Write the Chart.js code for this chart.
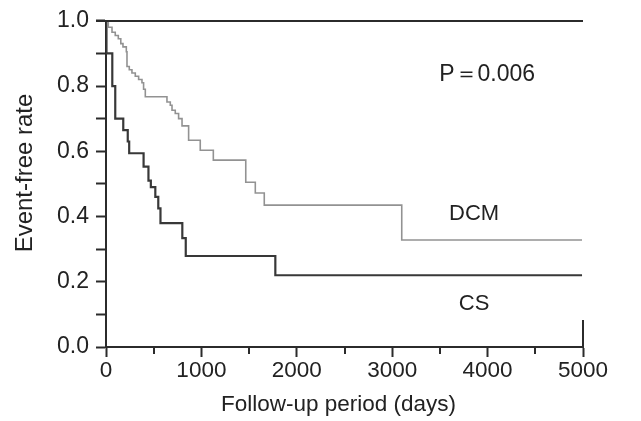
<!DOCTYPE html>
<html>
<head>
<meta charset="utf-8">
<script src="https://cdn.jsdelivr.net/npm/chart.js@4.4.1/dist/chart.umd.min.js"></script>
<style>
  html, body { margin: 0; padding: 0; background: #ffffff; }
  #wrap { width: 641px; height: 421px; }
</style>
</head>
<body>
<div id="wrap"><canvas id="c" width="641" height="421"></canvas></div>
<script>
// ---- data ----
const csDays  = [0, 5, 66, 97, 181, 228, 243, 394, 445, 470, 517, 548, 571, 800, 836, 1775, 4990];
const csRate  = [1.0, 0.90, 0.80, 0.70, 0.665, 0.63, 0.594, 0.553, 0.51, 0.49, 0.46, 0.425, 0.38, 0.334, 0.279, 0.22, 0.22];
const dcmDays = [0, 24, 63, 97, 129, 155, 178, 213, 220, 244, 272, 307, 342, 377, 394, 412, 639, 674, 692, 726, 761, 797, 866, 988, 1125, 1465, 1565, 1659, 3100, 4990];
const dcmRate = [1.0, 0.98, 0.965, 0.955, 0.945, 0.93, 0.92, 0.905, 0.86, 0.85, 0.84, 0.83, 0.82, 0.81, 0.79, 0.767, 0.751, 0.741, 0.726, 0.716, 0.70, 0.678, 0.634, 0.603, 0.573, 0.505, 0.472, 0.435, 0.328, 0.328];
const xTickLabels = ['0', '1000', '2000', '3000', '4000', '5000'];
const yTickLabels = ['0.0', '0.2', '0.4', '0.6', '0.8', '1.0'];
const seriesNames = ['CS', 'DCM'];
const pValueText = 'P\uFF1D0.006';
const xTitle = 'Follow-up period (days)';
const yTitle = 'Event-free rate';

const toPts = (xs, ys) => xs.map((x, i) => ({ x: x, y: ys[i] }));

const FONT = '"Liberation Sans", Arial, sans-serif';
const AXIS = '#2b2b2b';

const extras = {
  id: 'extras',
  afterDraw(chart) {
    const ctx = chart.ctx;
    const xs = chart.scales.x, ys = chart.scales.y;
    ctx.save();
    // minor x ticks
    ctx.strokeStyle = AXIS;
    ctx.lineWidth = 2;
    for (let v = 500; v < 5000; v += 1000) {
      const px = Math.round(xs.getPixelForValue(v));
      ctx.beginPath();
      ctx.moveTo(px, ys.bottom);
      ctx.lineTo(px, ys.bottom + 7);
      ctx.stroke();
    }
    // top border line
    const top = Math.round(ys.getPixelForValue(1.0));
    ctx.beginPath();
    ctx.moveTo(xs.left - 10, top);
    ctx.lineTo(xs.getPixelForValue(5000), top);
    ctx.stroke();
    // right stub
    const rx = Math.round(xs.getPixelForValue(5000));
    ctx.beginPath();
    ctx.moveTo(rx, ys.bottom - 27);
    ctx.lineTo(rx, ys.bottom);
    ctx.stroke();

    // annotations
    ctx.fillStyle = '#222';
    ctx.textAlign = 'center';
    ctx.textBaseline = 'middle';
    ctx.font = '23px ' + FONT;
    ctx.fillText(pValueText, xs.getPixelForValue(3995), ys.getPixelForValue(0.836));
    ctx.font = '22px ' + FONT;
    ctx.fillText(seriesNames[1], xs.getPixelForValue(3858), ys.getPixelForValue(0.407));
    ctx.fillText(seriesNames[0], xs.getPixelForValue(3858), ys.getPixelForValue(0.132));

    // axis titles
    ctx.font = '22.5px ' + FONT;
    ctx.fillText(xTitle, (xs.left + xs.right) / 2 - 6, 405);
    ctx.translate(25, 173);
    ctx.rotate(-Math.PI / 2);
    ctx.font = '24px ' + FONT;
    ctx.fillText(yTitle, 0, 0);
    ctx.restore();
  }
};

new Chart(document.getElementById('c'), {
  type: 'line',
  data: {
    datasets: [
      {
        label: seriesNames[1],
        data: toPts(dcmDays, dcmRate),
        stepped: 'before',
        borderColor: '#929292',
        borderWidth: 1.6,
        pointRadius: 0,
        fill: false
      },
      {
        label: seriesNames[0],
        data: toPts(csDays, csRate),
        stepped: 'before',
        borderColor: '#383838',
        borderWidth: 2.2,
        pointRadius: 0,
        fill: false
      }
    ]
  },
  options: {
    responsive: false,
    animation: false,
    devicePixelRatio: 1,
    layout: { padding: { left: 0, right: 58, top: 20, bottom: 0 } },
    plugins: { legend: { display: false }, tooltip: { enabled: false } },
    scales: {
      x: {
        type: 'linear',
        min: 0, max: 5000,
        afterFit(s) { s.height = 74; },
        ticks: {
          stepSize: 1000,
          maxRotation: 0,
          padding: 0,
          color: '#222',
          font: { family: FONT, size: 22.5 },
          callback: (v) => xTickLabels[Math.round(v / 1000)]
        },
        grid: { drawOnChartArea: false, drawTicks: true, tickLength: 10, tickColor: AXIS, tickWidth: 2 },
        border: { display: true, color: AXIS, width: 2 }
      },
      y: {
        type: 'linear',
        min: 0, max: 1,
        afterFit(s) { s.width = 106; },
        ticks: {
          stepSize: 0.1,
          padding: 7,
          color: '#222',
          font: { family: FONT, size: 23 },
          callback: (v) => {
            const k = Math.round(v * 10);
            return k % 2 === 0 ? yTickLabels[k / 2] : '';
          }
        },
        grid: { drawOnChartArea: false, drawTicks: true, tickLength: 10, tickColor: AXIS, tickWidth: 2 },
        border: { display: true, color: AXIS, width: 2 }
      }
    }
  },
  plugins: [extras]
});
</script>
</body>
</html>
